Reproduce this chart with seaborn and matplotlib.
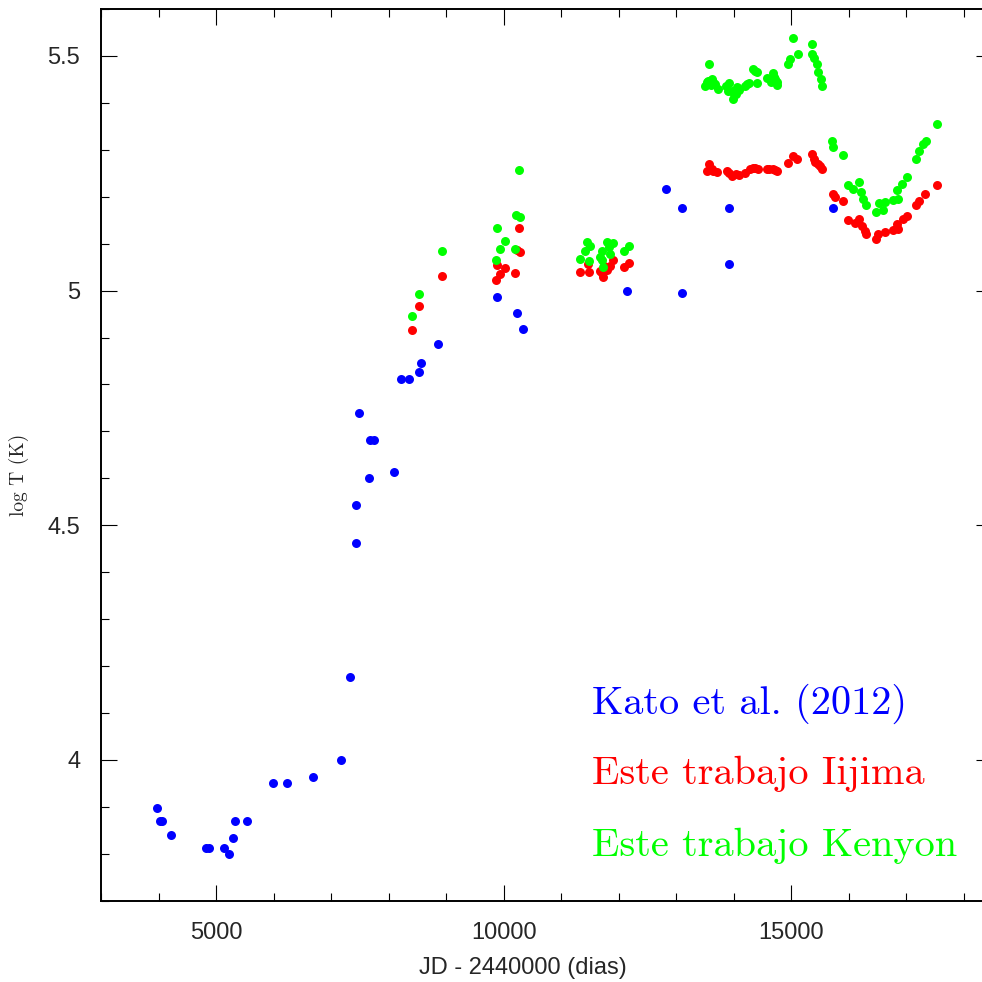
import numpy as np
import pandas as pd
import matplotlib
matplotlib.use('Agg')
import matplotlib.pyplot as plt
import seaborn as sns
from matplotlib.ticker import MultipleLocator

# ── data (JD - 2440000, log T) ─────────────────────────────────────────────

kato_jd = [3980, 4067, 4023, 4223, 4832, 4872, 5144, 5231, 5289, 5323, 5532,
           5990, 6234, 6692, 7172, 7329, 7433, 7433, 7665, 8088, 7682, 7740,
           7491, 8209, 8354, 8522, 8556, 8858, 9884, 10232, 10342, 12149,
           12816, 13105, 13105, 13923, 13923, 15736]
kato_logt = [3.898, 3.870, 3.870, 3.840, 3.813, 3.813, 3.813, 3.800, 3.833,
             3.870, 3.870, 3.950, 3.950, 3.964, 4.000, 4.177, 4.462, 4.543,
             4.601, 4.613, 4.681, 4.681, 4.740, 4.812, 4.812, 4.826, 4.845,
             4.886, 4.986, 4.953, 4.918, 4.999, 5.216, 5.175, 4.995, 5.175,
             5.056, 5.175]

iijima_jd = [8407, 8529, 8934, 9890, 10017, 9930, 9860, 10190, 10260, 10284,
             10232,
             11333, 11489, 11459, 11709, 11737, 11796, 11854, 11901, 11738,
             12085, 12172, 11680,
             13580, 13535, 13621, 13708, 13650, 13882, 13920, 13969, 14044,
             14100, 14200, 14287, 14330, 14374, 14432, 14577, 14620, 14692,
             14720, 14762, 14943, 15040, 15099, 15360, 15400, 15420, 15474,
             15500, 15533,
             15725, 15765, 15899, 15996, 16112, 16187, 16229, 16286, 16303,
             16477, 16517, 16634, 16778, 16865, 16837, 16941, 17011, 17173,
             17230, 17329, 17543]
iijima_logt = [4.917, 4.967, 5.032, 5.055, 5.048, 5.035, 5.023, 5.038, 5.133,
               5.083, 5.087,
               5.039, 5.039, 5.057, 5.037, 5.030, 5.043, 5.053, 5.065, 5.053,
               5.050, 5.058, 5.041,
               5.270, 5.254, 5.259, 5.252, 5.255, 5.254, 5.250, 5.245, 5.248,
               5.247, 5.250, 5.259, 5.262, 5.262, 5.259, 5.259, 5.260, 5.259,
               5.256, 5.254, 5.272, 5.287, 5.280, 5.291, 5.280, 5.275, 5.270,
               5.265, 5.259,
               5.206, 5.199, 5.190, 5.150, 5.145, 5.152, 5.138, 5.128, 5.121,
               5.110, 5.121, 5.124, 5.129, 5.131, 5.143, 5.152, 5.160, 5.183,
               5.191, 5.206, 5.224]

kenyon_jd = [8407, 8529, 8934, 9890, 10017, 9930, 9860, 10190, 10260, 10220,
             10289,
             11333, 11448, 11494, 11420, 11489, 11709, 11709, 11727, 11796,
             11854, 11901, 11825, 12085, 12172, 11680,
             13580, 13505, 13562, 13621, 13679, 13726, 13540, 13600, 13650,
             13870, 13900, 13927, 13969, 13987, 14000, 14044, 14066, 14100,
             14200, 14240, 14275, 14414, 14345, 14380, 14414, 14577, 14650,
             14682, 14700, 14722, 14750, 14762, 14943, 14982, 15116, 15040,
             15365, 15360, 15400, 15447, 15474, 15516, 15539,
             15707, 15735, 15899, 15996, 16083, 16187, 16211, 16257, 16303,
             16477, 16535, 16634, 16604, 16778, 16865, 16837, 16924, 17011,
             17173, 17230, 17300, 17347, 17543]
kenyon_logt = [4.945, 4.993, 5.085, 5.133, 5.105, 5.088, 5.065, 5.089, 5.257,
               5.162, 5.157,
               5.067, 5.103, 5.094, 5.085, 5.064, 5.085, 5.065, 5.050, 5.103,
               5.078, 5.101, 5.092, 5.084, 5.094, 5.072,
               5.482, 5.436, 5.447, 5.450, 5.440, 5.429, 5.445, 5.438, 5.444,
               5.436, 5.425, 5.443, 5.426, 5.408, 5.420, 5.418, 5.434, 5.428,
               5.436, 5.440, 5.443, 5.443, 5.472, 5.468, 5.465, 5.454, 5.445,
               5.463, 5.455, 5.450, 5.445, 5.438, 5.482, 5.493, 5.504, 5.539,
               5.525, 5.504, 5.495, 5.482, 5.465, 5.450, 5.436,
               5.319, 5.305, 5.289, 5.226, 5.217, 5.231, 5.210, 5.195, 5.183,
               5.167, 5.186, 5.188, 5.172, 5.193, 5.195, 5.214, 5.227, 5.243,
               5.280, 5.298, 5.313, 5.319, 5.355]

series_names = ['Kato et al. (2012)', 'Este trabajo Iijima', 'Este trabajo Kenyon']
series_colors = ['#0000ff', '#ff0000', '#00ff00']

y_ticks = [4, 4.5, 5, 5.5]
y_tick_labels = ['4', '4.5', '5', '5.5']
x_ticks = [5000, 10000, 15000]
x_tick_labels = ['5000', '10000', '15000']

# ── plot ───────────────────────────────────────────────────────────────────

sns.set_style('ticks')
plt.rcParams['font.family'] = ['Liberation Sans', 'DejaVu Sans']

fig = plt.figure(figsize=(9.82, 9.82), dpi=100)
ax = fig.add_axes([0.1029, 0.0828, 0.9077, 0.9080])

for jd, logt, color in [(iijima_jd, iijima_logt, series_colors[1]),
                        (kenyon_jd, kenyon_logt, series_colors[2]),
                        (kato_jd, kato_logt, series_colors[0])]:
    sns.scatterplot(x=jd, y=logt, color=color, s=42, linewidth=0,
                    ax=ax, zorder=3, legend=False)

ax.set_xlim(3000, 18500)
ax.set_ylim(3.7, 5.6)

ax.set_xticks(x_ticks)
ax.set_xticklabels(x_tick_labels)
ax.set_yticks(y_ticks)
ax.set_yticklabels(y_tick_labels)
ax.xaxis.set_minor_locator(MultipleLocator(1000))
ax.yaxis.set_minor_locator(MultipleLocator(0.1))

ax.tick_params(which='both', direction='in', top=True, right=True,
               color='black', width=0.8)
ax.tick_params(which='major', length=11.5, labelsize=17, pad=15)
ax.tick_params(which='minor', length=5.8)

for side in ['left', 'bottom', 'top', 'right']:
    ax.spines[side].set_visible(True)
    ax.spines[side].set_linewidth(1.4)
    ax.spines[side].set_color('black')

ax.set_xlabel('JD - 2440000 (dias)', fontsize=17)
ax.xaxis.set_label_coords(0.4734, -0.063)
ax.set_ylabel('log T (K)', fontsize=14, family='cmr10')
ax.yaxis.set_label_coords(-0.081, 0.477)

text_y = [0.2096, 0.131, 0.0504]
for name, color, ty in zip(series_names, series_colors, text_y):
    ax.text(0.5508, ty, name, transform=ax.transAxes, color=color,
            fontsize=29, family='cmr10', ha='left', va='baseline')

plt.savefig('out.png', dpi=100)
